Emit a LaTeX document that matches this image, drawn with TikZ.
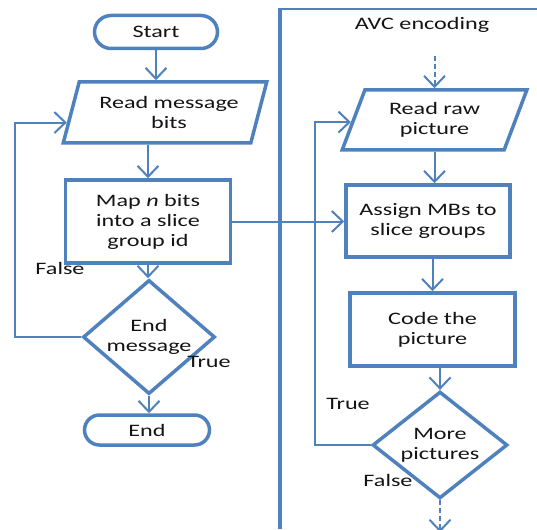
\documentclass[tikz,border=0pt]{standalone}
\usepackage{fontspec}
\setmainfont{Carlito}[FakeStretch=1.38]
\usetikzlibrary{shapes.geometric,shapes.misc,arrows.meta,calc}
\definecolor{flowblue}{RGB}{79,129,189}
\definecolor{inkgray}{RGB}{20,20,20}
\tikzset{
  box/.style={draw=flowblue, line width=3.5pt, align=center, text=inkgray,
    font=\fontsize{17.5}{20}\selectfont, inner sep=0pt},
  term/.style={box, rounded rectangle},
  proc/.style={box, rectangle},
  io/.style={box, trapezium, trapezium left angle=67, trapezium right angle=113,
    trapezium stretches=true},
  dec/.style={box, diamond, inner sep=-1.5pt},
  flow/.style={draw=flowblue, line width=2pt,
    -{Straight Barb[length=11pt,width=21pt]}},
  dashflow/.style={flow, dash pattern=on 5pt off 3pt},
  tag/.style={text=inkgray, font=\fontsize{17.5}{20}\selectfont, inner sep=0pt},
}
\begin{document}
\begin{tikzpicture}[x=1pt,y=-1pt]
\useasboundingbox (0,0) rectangle (537,529);

% panel frame of the encoder side
\draw[flowblue, line width=4.5pt] (280,8) -- (280,529);
\draw[flowblue, line width=2.5pt] (280,9) -- (537,9);

% left column: message embedding
\node[term, minimum width=123pt, minimum height=33pt] (start) at (156,32) {Start};
\node[io, minimum width=204pt, minimum height=61pt] (read1) at (165,112.5) {\hspace*{8pt}Read message\\\hspace*{8pt}bits};
\node[proc, minimum width=165pt, minimum height=83pt] (map) at (148,221.5) {Map \textit{n} bits\\into a slice\\group id};
\node[dec, minimum width=132pt, minimum height=90pt] (endq) at (149,337) {End\\message};
\node[term, minimum width=125pt, minimum height=30pt] (end) at (147,430) {End};

% right column: AVC encoding
\node[tag] (avc) at (422,25) {AVC encoding};
\node[io, minimum width=185pt, minimum height=60pt] (read2) at (434.5,120) {Read raw\\picture};
\node[proc, minimum width=164pt, minimum height=72pt] (assign) at (428,221) {Assign MBs to\\slice groups};
\node[proc, minimum width=165pt, minimum height=73pt] (code) at (432.5,329.5) {Code the\\picture};
\node[dec, minimum width=135pt, minimum height=90pt] (moreq) at (440,445) {More\\pictures};

% branch labels
\node[tag] (f1) at (60,268) {False};
\node[tag] (t1) at (209,362) {True};
\node[tag] (t2) at (348,404) {True};
\node[tag] (f2) at (388,480) {False};

% helper points
\coordinate (leftrail) at (15,0);
\coordinate (rightrail) at (315,0);
\coordinate (entry1) at ($(read1.top left corner)!0.656!(read1.bottom left corner)$);
\coordinate (entry2) at ($(read2.top left corner)!0.533!(read2.bottom left corner)$);
\coordinate (avcin) at ([yshift=32pt]read2.north);
\coordinate (avcout) at ([yshift=-32pt]moreq.south);

% left column connectors
\draw[flow] (start.south) -- (start.south |- read1.north);
\draw[flow] (map.north |- read1.south) -- (map.north);
\draw[flow] (map.south) -- (map.south |- endq.north);
\draw[flow] (endq.south) -- (endq.south |- end.north);
\draw[flow] (endq.west) -- (endq.west -| leftrail) |- (entry1);

% link between the two processes
\draw[flow] (map.east) -- (map.east -| assign.west);

% right column connectors
\draw[dashflow] (avcin) -- (read2.north);
\draw[flow] (read2.south) -- (read2.south |- assign.north);
\draw[flow] (code.north |- assign.south) -- (code.north);
\draw[flow] (moreq.north |- code.south) -- (moreq.north);
\draw[flow] (moreq.west) -- (moreq.west -| rightrail) |- (entry2);
\draw[dashflow] (moreq.south) -- (avcout);
\end{tikzpicture}
\end{document}
